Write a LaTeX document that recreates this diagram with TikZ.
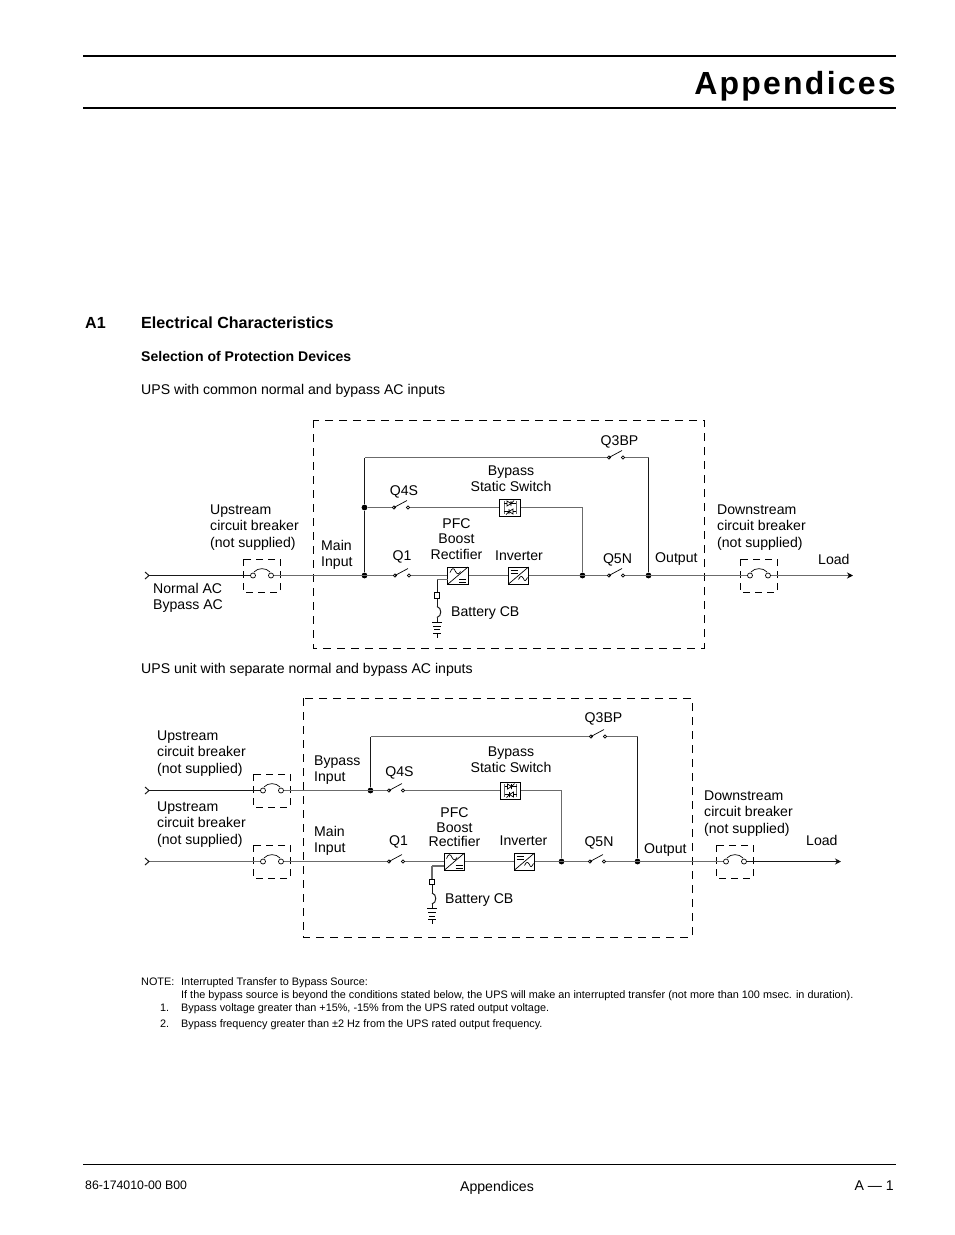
\documentclass[tikz,border=0pt]{standalone}
\usepackage{fontspec}
\setmainfont{Liberation Sans}
\usetikzlibrary{arrows.meta}
\newcommand\LL[1]{\begin{tabular}[t]{@{}l@{}}#1\end{tabular}}
\newcommand\CC[1]{\begin{tabular}[t]{@{}c@{}}#1\end{tabular}}
\tikzset{
  x=1pt,y=-1pt,
  wire/.style={draw=black!58,line width=1.3pt},
  dark/.style={draw=black!90,line width=1pt},
  thin sym/.style={draw=black,line width=.7pt},
  dashbox/.style={draw=black,line width=.9pt,dash pattern=on 8pt off 6pt},
  dashsm/.style={draw=black,line width=.9pt,dash pattern=on 7pt off 5pt},
  lbl/.style={anchor=base west,inner sep=0pt,font=\fontsize{14.1}{16.9}\selectfont},
  clbl/.style={anchor=base,inner sep=0pt,font=\fontsize{14.1}{16.9}\selectfont},
  note/.style={anchor=base west,inner sep=0pt,font=\fontsize{10.86}{13}\selectfont},
  term/.style={circle,draw=black,fill=white,line width=.7pt,inner sep=0pt,minimum size=3.2pt},
  bterm/.style={circle,draw=black,fill=white,line width=.7pt,inner sep=0pt,minimum size=5pt},
  dot/.style={circle,fill=black,inner sep=0pt,minimum size=5.8pt},
  conv/.style={rectangle,draw=black,fill=white,line width=1pt,inner sep=0pt,minimum width=20.5pt,minimum height=17pt},
  sw/.pic={
    \node[term] (-l) at (0,0) {};
    \node[term] (-r) at (14,0) {};
    \draw[thin sym] (-l.center) -- (13,-7);
  },
  brk/.pic={
    \node[bterm] (-l) at (0,0) {};
    \node[bterm] (-r) at (18,0) {};
    \draw[thin sym] (1,-3.5) .. controls (5,-8) and (13,-8) .. (17,-3.5);
    \draw[dashsm] (-10,-16.5) rectangle (27,16.5);
  },
  rectsym/.pic={
    \draw[thin sym] (-10,8.5) -- (10,-8.5);
    \draw[thin sym] (-8,-3) .. controls (-6,-8) and (-4,-8) .. (-2.5,-4) .. controls (-1,-1) and (1,-1) .. (2.5,-4);
    \draw[thin sym] (1,3.5) -- (8,3.5) (1,6.5) -- (8,6.5);
  },
  invsym/.pic={
    \draw[thin sym] (-10,8.5) -- (10,-8.5);
    \draw[thin sym] (-8,-5.5) -- (-1,-5.5) (-8,-2.5) -- (-1,-2.5);
    \draw[thin sym] (0,4) .. controls (2,0) and (3,0) .. (5,3) .. controls (6,6) and (7,6) .. (9,2);
  },
  sssym/.pic={
    \draw[draw=black!60,line width=.8pt] (-6,-6.5) -- (-6,6.5) (6,-6.5) -- (6,6.5);
    \draw[thin sym] (-6,-4) -- (-3,-4) (1,-4) -- (6,-4) (-6,4) -- (-1,4) (3,4) -- (6,4);
    \draw[thin sym] (-3,-6.5) -- (-3,-1.5) -- (1,-4) -- cycle (1,-6.5) -- (1,-1.5) (1,-4) -- (4,-7);
    \draw[thin sym] (3,1.5) -- (3,6.5) -- (-1,4) -- cycle (-1,1.5) -- (-1,6.5) (-1,4) -- (-4,7);
  },
  batt/.pic={
    \coordinate (-top) at (0,0);
    \node[rectangle,draw=black,fill=white,line width=.8pt,inner sep=0pt,minimum size=5.5pt] (-fuse) at (0,16) {};
    \coordinate (-a) at (0,27);
    \coordinate (-b) at (0,38);
    \coordinate (-c) at (0,42.5);
    \draw[dark] (-fuse.south) -- (-a);
    \draw[dark] (-a) .. controls (5,28) and (5,37) .. (-b);
    \draw[dark] (-b) -- (-c);
    \draw[thin sym] (-5,42.5) -- (5,42.5) (-4,46.5) -- (4,46.5) (-3,50) -- (3,50) (-4,53.5) -- (4,53.5) (0,53.5) -- (0,58);
  }
}
\begin{document}
\begin{tikzpicture}
\useasboundingbox (0,0) rectangle (954,1235);
% page furniture
\coordinate (r1a) at (83,56); \coordinate (r1b) at (896,56);
\coordinate (r2a) at (83,108); \coordinate (r2b) at (896,108);
\coordinate (r3a) at (83,1164); \coordinate (r3b) at (896,1164);
\draw[line width=2pt] (r1a) -- (r1b);
\draw[line width=2pt] (r2a) -- (r2b);
\draw[line width=1pt] (r3a) -- (r3b);
\node[anchor=base east,inner sep=0pt,font=\fontsize{32}{34}\selectfont\bfseries\addfontfeature{LetterSpace=7}] (title) at (896,94) {Appendices};
\node[lbl,font=\fontsize{16.1}{18}\selectfont\bfseries] (a1) at (85,328) {A1};
\node[lbl,font=\fontsize{16.1}{18}\selectfont\bfseries] (ec) at (141,328) {Electrical Characteristics};
\node[lbl,font=\fontsize{14.05}{16}\selectfont\bfseries] (spd) at (141,361) {Selection of Protection Devices};
\node[lbl] (t1) at (141,394) {UPS with common normal and bypass AC inputs};
\node[lbl] (t2) at (141,673) {UPS unit with separate normal and bypass AC inputs};
\node[lbl,font=\fontsize{12.3}{14}\selectfont] (f1) at (85,1189) {86-174010-00 B00};
\node[clbl] (f2) at (497,1191) {Appendices};
\node[anchor=base east,inner sep=0pt,font=\fontsize{14.1}{16.5}\selectfont] (f3) at (894,1190) {A --- 1};
% notes
\node[note] (n0) at (141,985) {NOTE:};
\node[note] (n1) at (181,985) {Interrupted Transfer to Bypass Source:};
\node[note] (n2) at (181,998) {If the bypass source is beyond the conditions stated below, the UPS will make an interrupted transfer (not more than 100 msec. in duration).};
\node[note] (n3a) at (160,1011) {1.};
\node[note] (n3) at (181,1011) {Bypass voltage greater than +15\%, -15\% from the UPS rated output voltage.};
\node[note] (n4a) at (160,1027) {2.};
\node[note] (n4) at (181,1027) {Bypass frequency greater than ±2 Hz from the UPS rated output frequency.};

% ---------- diagram 1
\draw[dashbox] (313,420) rectangle (704,648);
\coordinate (a-in) at (149,575.5);
\coordinate (a-out) at (853,575.5);
\coordinate (a-top) at (364.5,457.5);
\coordinate (a-topr) at (648.5,457.5);
\coordinate (a-q4r) at (582.5,507.5);
\node[dot] (a-d1) at (364.5,575.5) {};
\node[dot] (a-d2) at (364.5,507.5) {};
\node[dot] (a-d3) at (582.5,575.5) {};
\node[dot] (a-d4) at (648.5,575.5) {};
\pic (a-b1) at (253,575.5) {brk};
\pic (a-b2) at (750,575.5) {brk};
\pic (a-q1) at (395,575.5) {sw};
\pic (a-q4) at (394,507.5) {sw};
\pic (a-q5) at (609,575.5) {sw};
\pic (a-q3) at (609,457.5) {sw};
\node[conv] (a-rect) at (458,575.5) {};
\node[conv] (a-inv) at (518.5,575.5) {};
\node[conv] (a-ss) at (510,507.5) {};
\pic at (458,575.5) {rectsym};
\pic at (518.5,575.5) {invsym};
\pic at (510,507.5) {sssym};
\coordinate (a-rl) at (447.7,579.5);
\pic (a-bt) at (437,579.5) {batt};
\draw[dark] (a-in) -- (a-b1-l);
\draw[dark] (145,572) -- (a-in) -- (145,579);
\draw[wire] (a-b1-r) -- (a-q1-l);
\draw[wire] (a-q1-r) -- (a-rect);
\draw[wire] (a-rect) -- (a-inv);
\draw[wire] (a-inv) -- (a-q5-l);
\draw[wire] (a-q5-r) -- (a-b2-l);
\draw[wire,-{Stealth[length=6pt,width=6pt,color=black]}] (a-b2-r) -- (a-out);
\draw[wire] (a-q4-r) -- (a-ss);
\draw[wire] (a-d2) -- (a-q4-l);
\draw[wire] (a-ss) -- (a-q4r) -- (a-d3);
\draw[dark] (a-d1) -- (a-d2) -- (a-top);
\draw[wire] (a-top) -- (a-q3-l);
\draw[wire] (a-q3-r) -- (a-topr);
\draw[dark] (a-topr) -- (a-d4);
\draw[wire] (a-rl) -- (a-bt-top);
\draw[dark] (a-bt-top) -- (a-bt-fuse);
\node[lbl] (a-l1) at (210,514) {\LL{Upstream\\circuit breaker\\(not supplied)}};
\node[lbl] (a-l2) at (321,550) {\LL{Main\\Input}};
\node[clbl] (a-l3) at (404,495) {Q4S};
\node[clbl] (a-l4) at (402,560) {Q1};
\node[clbl] (a-l5) at (456.5,528) {PFC};
\node[clbl] (a-l5b) at (456.5,543.5) {Boost};
\node[clbl] (a-l5c) at (456.5,559) {Rectifier};
\node[clbl] (a-l6) at (519,560) {Inverter};
\node[clbl] (a-l7) at (511,475) {\CC{Bypass\\Static Switch}};
\node[clbl] (a-l8) at (619.5,445) {Q3BP};
\node[clbl] (a-l9) at (617.5,563.5) {Q5N};
\node[lbl] (a-l10) at (655,562) {Output};
\node[lbl] (a-l11) at (717,514) {\LL{Downstream\\circuit breaker\\(not supplied)}};
\node[lbl] (a-l12) at (818,564) {Load};
\node[lbl] (a-l13) at (153,593) {\LL{Normal AC\\Bypass AC}};
\node[lbl] (a-l14) at (451,616) {Battery CB};

% ---------- diagram 2
\draw[dashbox] (303,698) rectangle (692,937);
\coordinate (b-in1) at (149,790.5);
\coordinate (b-in2) at (149,861.5);
\coordinate (b-out) at (841,861.5);
\coordinate (b-top) at (370.5,736.5);
\coordinate (b-topr) at (637.5,736.5);
\coordinate (b-q4r) at (561.5,790.5);
\node[dot] (b-d1) at (370.5,790.5) {};
\node[dot] (b-d3) at (561.5,861.5) {};
\node[dot] (b-d4) at (637.5,861.5) {};
\pic (b-b1) at (263,790.5) {brk};
\pic (b-b2) at (263,861.5) {brk};
\pic (b-b3) at (726,861.5) {brk};
\pic (b-q1) at (389,861.5) {sw};
\pic (b-q4) at (389,790.5) {sw};
\pic (b-q5) at (590,861.5) {sw};
\pic (b-q3) at (591,736.5) {sw};
\node[conv] (b-rect) at (454.5,861.5) {};
\node[conv] (b-inv) at (524.5,861.5) {};
\node[conv] (b-ss) at (510.5,790.5) {};
\pic at (454.5,861.5) {rectsym};
\pic at (524.5,861.5) {invsym};
\pic at (510.5,790.5) {sssym};
\coordinate (b-rl) at (444.2,866);
\pic (b-bt) at (432,866) {batt};
\draw[dark] (b-in1) -- (b-b1-l);
\draw[dark] (145,787) -- (b-in1) -- (145,794);
\draw[wire] (b-in2) -- (b-b2-l);
\draw[dark] (145,858) -- (b-in2) -- (145,865);
\draw[wire] (b-b1-r) -- (b-q4-l);
\draw[wire] (b-b2-r) -- (b-q1-l);
\draw[wire] (b-q1-r) -- (b-rect);
\draw[wire] (b-rect) -- (b-inv);
\draw[wire] (b-inv) -- (b-q5-l);
\draw[wire] (b-q5-r) -- (b-b3-l);
\draw[dark,-{Stealth[length=6pt,width=6pt]}] (b-b3-r) -- (b-out);
\draw[wire] (b-q4-r) -- (b-ss);
\draw[wire] (b-ss) -- (b-q4r) -- (b-d3);
\draw[dark] (b-d1) -- (b-top);
\draw[wire] (b-top) -- (b-q3-l);
\draw[wire] (b-q3-r) -- (b-topr);
\draw[dark] (b-topr) -- (b-d4);
\draw[wire] (b-rl) -- (b-bt-top);
\draw[wire] (b-bt-top) -- (b-bt-fuse);
\node[lbl] (b-l1) at (157,740) {\LL{Upstream\\circuit breaker\\(not supplied)}};
\node[lbl] (b-l1b) at (157,811) {\LL{Upstream\\circuit breaker\\(not supplied)}};
\node[lbl] (b-l2) at (314,765) {\LL{Bypass\\Input}};
\node[lbl] (b-l2b) at (314,836) {\LL{Main\\Input}};
\node[clbl] (b-l3) at (399.5,776) {Q4S};
\node[clbl] (b-l4) at (398.5,845) {Q1};
\node[clbl] (b-l5) at (454.5,817) {PFC};
\node[clbl] (b-l5b) at (454.5,832) {Boost};
\node[clbl] (b-l5c) at (454.5,846) {Rectifier};
\node[clbl] (b-l6) at (523.5,845.5) {Inverter};
\node[clbl] (b-l7) at (511,756) {\CC{Bypass\\Static Switch}};
\node[clbl] (b-l8) at (603.5,722) {Q3BP};
\node[clbl] (b-l9) at (599,846) {Q5N};
\node[lbl] (b-l10) at (644,853) {Output};
\node[lbl] (b-l11) at (704,800) {\LL{Downstream\\circuit breaker\\(not supplied)}};
\node[lbl] (b-l12) at (806,845) {Load};
\node[lbl] (b-l14) at (445,903) {Battery CB};
\end{tikzpicture}
\end{document}
